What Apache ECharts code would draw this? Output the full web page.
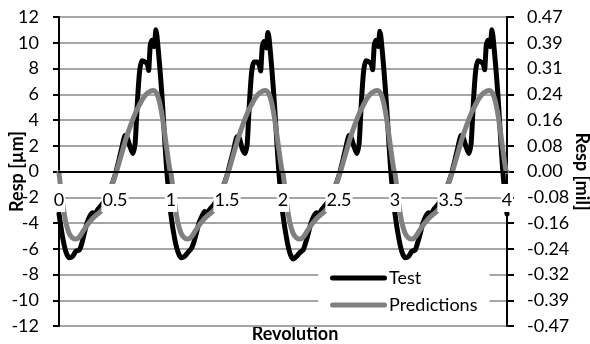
<!DOCTYPE html>
<html>
<head>
<meta charset="utf-8">
<script src="https://cdn.jsdelivr.net/npm/echarts@6/dist/echarts.min.js"></script>
<style>
  html, body { margin: 0; padding: 0; background: #fff; }
  #chart { width: 590px; height: 344px; }
</style>
</head>
<body>
<div id="chart"></div>
<script>
// Tick labels
const revLabels = ['0', '0.5', '1', '1.5', '2', '2.5', '3', '3.5', '4'];
const umLabels = ['-12', '-10', '-8', '-6', '-4', '-2', '0', '2', '4', '6', '8', '10', '12'];
const milLabels = ['-0.47', '-0.39', '-0.32', '-0.24', '-0.16', '-0.08', '0.00', '0.08', '0.16', '0.24', '0.31', '0.39', '0.47'];

// Measured response, sampled at these fractions of each revolution
const testPhase = [0.00, 0.03, 0.06, 0.09, 0.12, 0.15, 0.18, 0.20, 0.22, 0.25, 0.28, 0.30, 0.32, 0.35, 0.38, 0.42, 0.46, 0.50, 0.53, 0.56, 0.59, 0.61, 0.635, 0.66, 0.68, 0.70, 0.72, 0.74, 0.77, 0.79, 0.80, 0.815, 0.83, 0.85, 0.865, 0.875, 0.90, 0.92, 0.94, 0.96, 0.98];
const testRev1 = [-3.3, -5.0, -6.2, -6.7, -6.6, -6.2, -6.1, -5.7, -5.0, -4.0, -3.4, -3.2, -3.3, -2.9, -2.6, -2.1, -1.3, -0.3, 0.7, 1.8, 2.8, 2.6, 1.9, 1.4, 2.2, 5.4, 7.8, 8.6, 8.5, 8.3, 7.85, 9.8, 10.2, 9.7, 11.0, 10.5, 8.1, 5.8, 3.0, 0.3, -1.7];
const testRev2 = [-3.4, -5.1, -6.2, -6.7, -6.6, -6.3, -6.0, -5.6, -5.0, -4.0, -3.4, -3.1, -3.2, -2.9, -2.6, -2.1, -1.3, -0.3, 0.7, 1.7, 2.7, 2.6, 1.8, 1.4, 2.1, 5.3, 7.7, 8.5, 8.5, 8.2, 7.8, 9.7, 10.1, 9.6, 10.8, 10.4, 8.0, 5.7, 3.0, 0.3, -1.8];
const testRev3 = [-3.4, -5.1, -6.3, -6.8, -6.6, -6.3, -6.1, -5.6, -5.0, -4.0, -3.4, -3.2, -3.3, -2.9, -2.6, -2.1, -1.3, -0.3, 0.7, 1.8, 2.8, 2.6, 1.9, 1.4, 2.2, 5.4, 7.8, 8.6, 8.5, 8.3, 7.9, 9.8, 10.2, 9.7, 10.9, 10.4, 8.0, 5.7, 3.0, 0.3, -1.7];
const testRev4 = [-3.3, -5.0, -6.2, -6.7, -6.6, -6.2, -6.1, -5.6, -5.0, -4.0, -3.4, -3.2, -3.3, -2.9, -2.6, -2.1, -1.3, -0.3, 0.7, 1.8, 2.8, 2.6, 1.9, 1.4, 2.2, 5.4, 7.8, 8.6, 8.5, 8.3, 7.9, 9.8, 10.2, 9.7, 11.0, 10.5, 8.1, 5.8, 3.0, 0.3, -1.7];
const testEnd = -3.3;

// Predicted response, sampled at these fractions of each revolution
const predPhase = [0.00, 0.03, 0.06, 0.09, 0.12, 0.15, 0.18, 0.21, 0.24, 0.27, 0.30, 0.33, 0.36, 0.40, 0.44, 0.48, 0.52, 0.56, 0.60, 0.64, 0.68, 0.72, 0.76, 0.80, 0.84, 0.87, 0.90, 0.93, 0.96, 0.99];
const predRev = [-0.1, -2.3, -3.9, -4.8, -5.15, -5.25, -5.1, -4.7, -4.3, -3.95, -3.65, -3.4, -3.2, -2.8, -2.0, -0.9, 0.2, 1.4, 2.6, 3.6, 4.5, 5.2, 5.8, 6.15, 6.3, 6.1, 5.3, 3.8, 1.9, 0.1];
const predEnd = 0.0;

function buildSeries(phase, cycles, endValue) {
  const pts = [];
  cycles.forEach((vals, rev) => {
    phase.forEach((p, i) => pts.push([rev + p, vals[i]]));
  });
  pts.push([cycles.length, endValue]);
  return pts;
}

const testData = buildSeries(testPhase, [testRev1, testRev2, testRev3, testRev4], testEnd);
const predData = buildSeries(predPhase, [predRev, predRev, predRev, predRev], predEnd);

const FONT = 'Lato';
const chart = echarts.init(document.getElementById('chart'), null, { renderer: 'canvas' });

chart.setOption({
  animation: false,
  backgroundColor: '#ffffff',
  grid: { left: 59, right: 83, top: 17, bottom: 18, containLabel: false, outerBoundsMode: 'none' },
  legend: {
    orient: 'vertical',
    left: 318,
    top: 261,
    padding: [6, 12, 6, 12],
    backgroundColor: '#ffffff',
    itemWidth: 57,
    itemHeight: 5,
    itemGap: 5,
    icon: 'path://M2.5,0 L54.5,0 A2.5,2.5 0 0 1 54.5,5 L2.5,5 A2.5,2.5 0 0 1 2.5,0 Z',
    textStyle: { fontFamily: FONT, fontSize: 18, color: '#000', lineHeight: 22, padding: [0, 0, 0, -3] },
    data: ['Test', 'Predictions']
  },
  xAxis: [
    {
      // revolution scale; its labels sit just under the zero line
      type: 'value',
      min: 0,
      max: 4,
      interval: 0.5,
      position: 'bottom',
      z: 6,
      axisLine: { show: false, onZero: false },
      axisTick: { show: false },
      splitLine: { show: false },
      axisLabel: {
        fontFamily: FONT,
        fontSize: 18,
        color: '#000',
        lineHeight: 18,
        margin: -142,
        verticalAlign: 'top',
        backgroundColor: '#ffffff',
        padding: [7, 1, 3, 1],
        formatter: v => revLabels[Math.round(v / 0.5)]
      }
    },
    {
      // zero line
      type: 'value',
      min: 0,
      max: 4,
      interval: 0.5,
      z: 4,
      axisLine: { show: true, onZero: true, onZeroAxisIndex: 0, lineStyle: { color: '#000', width: 2 } },
      axisTick: { show: false },
      axisLabel: { show: false },
      splitLine: { show: false }
    }
  ],
  yAxis: [
    {
      type: 'value',
      min: -12,
      max: 12,
      interval: 2,
      position: 'left',
      name: 'Resp [µm]',
      nameLocation: 'middle',
      nameGap: 33,
      nameMoveOverlap: false,
      nameTextStyle: { fontFamily: FONT, fontSize: 18, fontWeight: 'bold', color: '#000' },
      axisLine: { show: true, onZero: false, lineStyle: { color: '#000', width: 2 } },
      axisTick: { show: true, inside: false, length: 6, lineStyle: { color: '#000', width: 2 } },
      splitLine: { show: true, lineStyle: { color: '#a6a6a6', width: 2 } },
      axisLabel: {
        fontFamily: FONT, fontSize: 18, color: '#000', margin: 20,
        formatter: v => umLabels[Math.round((v + 12) / 2)]
      }
    },
    {
      type: 'value',
      min: -12,
      max: 12,
      interval: 2,
      position: 'right',
      name: 'Resp [mil]',
      nameLocation: 'middle',
      nameRotate: -90,
      nameGap: 66,
      nameMoveOverlap: false,
      nameTextStyle: { fontFamily: FONT, fontSize: 18, fontWeight: 'bold', color: '#000' },
      axisLine: { show: true, onZero: false, lineStyle: { color: '#000', width: 2 } },
      axisTick: { show: true, inside: false, length: 7, lineStyle: { color: '#000', width: 2 } },
      splitLine: { show: false },
      axisLabel: {
        fontFamily: FONT, fontSize: 18, color: '#000', margin: 20,
        formatter: v => milLabels[Math.round((v + 12) / 2)]
      }
    }
  ],
  graphic: [
    {
      type: 'text',
      left: 'center',
      top: 325,
      style: { text: 'Revolution', fontFamily: FONT, fontSize: 18, fontWeight: 'bold', fill: '#000' },
      x: -12
    }
  ],
  series: [
    {
      name: 'Test',
      type: 'line',
      data: testData,
      showSymbol: false,
      symbol: 'none',
      smooth: 0.2,
      color: '#000000',
      lineStyle: { color: '#000000', width: 5, cap: 'round', join: 'round' },
      z: 2
    },
    {
      name: 'Predictions',
      type: 'line',
      data: predData,
      showSymbol: false,
      symbol: 'none',
      smooth: 0.4,
      color: '#808080',
      lineStyle: { color: '#808080', width: 5, cap: 'round', join: 'round' },
      z: 3
    }
  ]
});
</script>
</body>
</html>
